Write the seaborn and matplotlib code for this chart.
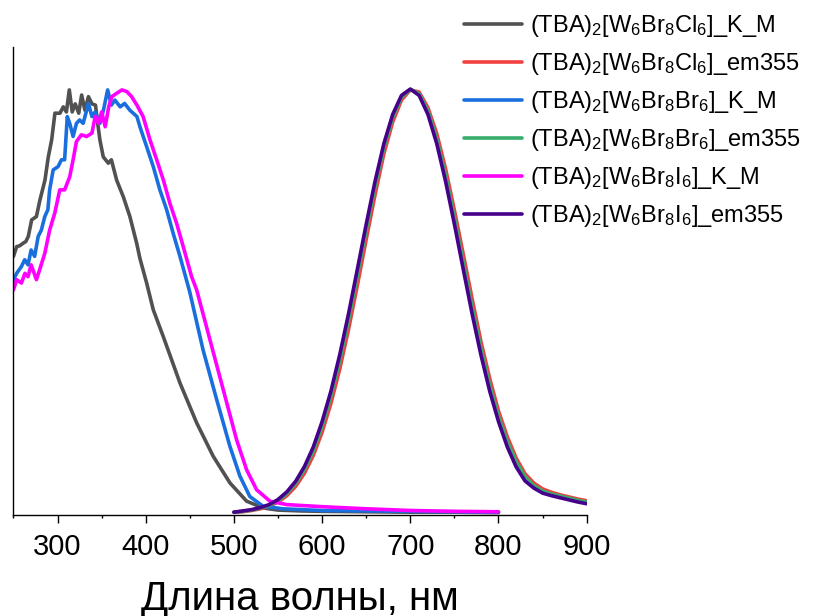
import matplotlib
matplotlib.use("Agg")
import matplotlib.pyplot as plt
import seaborn as sns
import pandas as pd

# excitation spectra (K_M)
wl_cl_km = [250, 253.6, 257, 261, 264, 266.8, 270.6, 276, 280, 285.7, 289.5, 293.3, 297, 302.7,
            306.5, 310, 313.3, 316.6, 320, 324, 327.3, 331, 335, 339, 343, 345, 348, 351.8, 357.5,
            361, 367, 374.5, 382, 389.7, 393.4, 401, 408.5, 419.8, 438.8, 457.7, 476.5, 495.5,
            514.4, 533.2, 550, 575, 600, 650, 700, 750, 800]
int_cl_km = [0.605, 0.628, 0.630, 0.636, 0.640, 0.652, 0.691, 0.699, 0.738, 0.785, 0.840, 0.880,
             0.943, 0.943, 0.958, 0.946, 0.998, 0.946, 0.965, 0.943, 0.986, 0.950, 0.982, 0.965,
             0.962, 0.927, 0.880, 0.840, 0.825, 0.833, 0.785, 0.746, 0.699, 0.636, 0.600, 0.542,
             0.479, 0.416, 0.306, 0.212, 0.133, 0.070, 0.027, 0.011, 0.006, 0.004, 0.003, 0.002,
             0.001, 0.001, 0.0]

wl_br_km = [250, 253.6, 259, 262.7, 266.5, 270, 274, 278, 281.6, 285.5, 289, 291, 295, 300.6,
            304.4, 308, 311, 313.8, 317.6, 321.4, 325, 329, 333, 335, 339, 342.6, 348, 352, 356.8,
            361, 365, 371, 376, 382, 390, 393.4, 401, 408.5, 416, 423.7, 431, 438.8, 450, 465,
            480.4, 495.5, 506.8, 518, 533, 555.6, 600, 650, 700, 750, 800]
int_br_km = [0.550, 0.565, 0.581, 0.597, 0.585, 0.620, 0.605, 0.652, 0.667, 0.699, 0.715, 0.762,
             0.809, 0.817, 0.833, 0.833, 0.935, 0.919, 0.888, 0.919, 0.927, 0.919, 0.950, 0.966,
             0.935, 0.946, 0.919, 0.950, 0.998, 0.962, 0.974, 0.958, 0.966, 0.950, 0.935, 0.911,
             0.864, 0.817, 0.762, 0.715, 0.660, 0.605, 0.520, 0.384, 0.267, 0.156, 0.086, 0.038,
             0.015, 0.009, 0.005, 0.004, 0.003, 0.002, 0.001]

wl_i_km = [250, 253.6, 259, 263, 266.5, 270, 276, 279.6, 285.5, 291, 296.8, 302.5, 308, 313.8,
           317.6, 321.4, 327, 333, 339, 342.6, 346.5, 350, 354, 358, 361.5, 367, 373, 378.6, 384,
           390, 397, 404.8, 412.4, 420, 427.4, 435, 442.5, 452, 457.7, 472.8, 487.9, 503, 514.4,
           525.7, 540.8, 559.7, 575, 600, 650, 700, 750, 800]
int_i_km = [0.526, 0.550, 0.542, 0.565, 0.557, 0.585, 0.550, 0.573, 0.612, 0.667, 0.707, 0.762,
            0.762, 0.793, 0.833, 0.876, 0.892, 0.888, 0.896, 0.935, 0.919, 0.946, 0.911, 0.958,
            0.982, 0.990, 0.998, 0.994, 0.982, 0.962, 0.935, 0.880, 0.833, 0.785, 0.730, 0.683,
            0.628, 0.557, 0.526, 0.408, 0.290, 0.172, 0.101, 0.054, 0.027, 0.019, 0.017, 0.014,
            0.009, 0.005, 0.003, 0.002]

# emission spectra (em355)
wl_em = [500, 510, 520, 530, 540, 550, 560, 570, 580, 590, 600, 610, 620, 630, 640, 650, 660,
         670, 680, 690, 700, 710, 720, 730, 740, 750, 760, 770, 780, 790, 800, 810, 820, 830,
         840, 850, 860, 870, 880, 890, 900]
int_cl_em = [0.001, 0.002, 0.005, 0.009, 0.015, 0.025, 0.040, 0.062, 0.093, 0.135, 0.190, 0.258,
             0.339, 0.433, 0.537, 0.645, 0.750, 0.847, 0.922, 0.974, 0.998, 0.993, 0.956, 0.895,
             0.812, 0.714, 0.611, 0.506, 0.405, 0.317, 0.240, 0.179, 0.129, 0.092, 0.070, 0.056,
             0.048, 0.042, 0.037, 0.032, 0.028]
int_br_em = [0.001, 0.003, 0.006, 0.011, 0.017, 0.028, 0.045, 0.069, 0.102, 0.146, 0.204, 0.275,
             0.359, 0.455, 0.560, 0.667, 0.770, 0.862, 0.933, 0.981, 0.999, 0.989, 0.948, 0.882,
             0.796, 0.696, 0.591, 0.486, 0.388, 0.301, 0.227, 0.168, 0.120, 0.085, 0.064, 0.051,
             0.044, 0.039, 0.034, 0.029, 0.025]
int_i_em = [0.001, 0.004, 0.007, 0.012, 0.019, 0.031, 0.049, 0.074, 0.109, 0.155, 0.215, 0.287,
            0.373, 0.470, 0.575, 0.681, 0.782, 0.871, 0.940, 0.985, 1.000, 0.985, 0.940, 0.871,
            0.782, 0.681, 0.575, 0.470, 0.373, 0.287, 0.215, 0.155, 0.108, 0.075, 0.058, 0.046,
            0.040, 0.035, 0.030, 0.025, 0.021]

labels = [r"(TBA)$_2$[W$_6$Br$_8$Cl$_6$]_K_M",
          r"(TBA)$_2$[W$_6$Br$_8$Cl$_6$]_em355",
          r"(TBA)$_2$[W$_6$Br$_8$Br$_6$]_K_M",
          r"(TBA)$_2$[W$_6$Br$_8$Br$_6$]_em355",
          r"(TBA)$_2$[W$_6$Br$_8$I$_6$]_K_M",
          r"(TBA)$_2$[W$_6$Br$_8$I$_6$]_em355"]
colors = ["#515151", "#F14040", "#1A6FDF", "#37AD6B", "#FF00FF", "#46008C"]

series = [(wl_cl_km, int_cl_km), (wl_em, int_cl_em), (wl_br_km, int_br_km),
          (wl_em, int_br_em), (wl_i_km, int_i_km), (wl_em, int_i_em)]

sns.set_style("ticks")
plt.rcParams["font.family"] = ["Liberation Sans", "DejaVu Sans"]
plt.rcParams["mathtext.fontset"] = "custom"
plt.rcParams["mathtext.rm"] = "Liberation Sans"
plt.rcParams["mathtext.it"] = "Liberation Sans:italic"
plt.rcParams["text.color"] = "black"
plt.rcParams["axes.labelcolor"] = "black"
plt.rcParams["xtick.color"] = "black"

fig = plt.figure(figsize=(8.27, 6.16), dpi=100)
ax = fig.add_axes([0.0163, 0.1644, 0.6931, 0.7598])

for (x, y), lab, col in zip(series, labels, colors):
    df = pd.DataFrame({"wl": x, "val": y})
    sns.lineplot(data=df, x="wl", y="val", color=col, label=lab, linewidth=2.6, ax=ax)

ax.set_xlim(250, 900)
ax.set_ylim(-0.005, 1.1)
ax.set_xticks([300, 400, 500, 600, 700, 800, 900])
ax.set_xticks([250, 350, 450, 550, 650, 750, 850], minor=True)
ax.set_yticks([])
ax.tick_params(axis="x", which="major", length=6, width=1, labelsize=21, pad=7.5,
               direction="out", colors="black")
ax.tick_params(axis="x", which="minor", length=2.5, width=1, direction="out", colors="black")
ax.set_xlabel("Длина волны, нм", fontsize=29, labelpad=13, color="black")
ax.set_ylabel("")
for s in ["top", "right"]:
    ax.spines[s].set_visible(False)
for s in ["left", "bottom"]:
    ax.spines[s].set_color("black")
    ax.spines[s].set_linewidth(1)

leg = ax.legend(loc="upper left", bbox_to_anchor=(464 / 827, 1 - 13 / 616),
                bbox_transform=fig.transFigure, frameon=False, fontsize=17, handlelength=2.45,
                handletextpad=0.34, labelspacing=0.51, borderpad=0, borderaxespad=0)
for t in leg.get_texts():
    t.set_color("black")

fig.savefig("out.png", dpi=100)
